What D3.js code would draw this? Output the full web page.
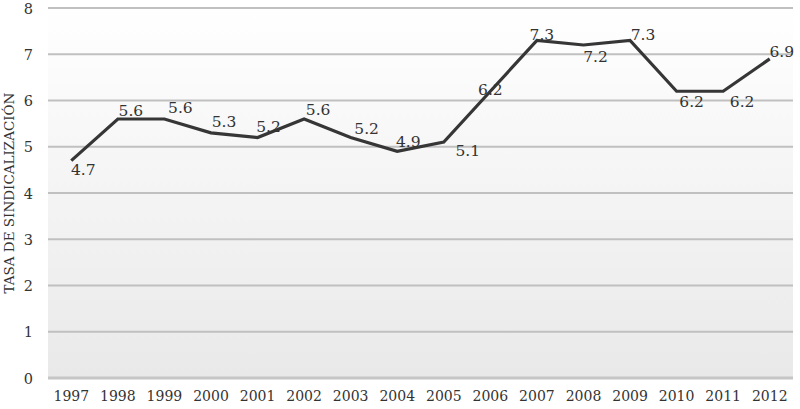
<!DOCTYPE html>
<html><head><meta charset="utf-8">
<script src="https://cdn.jsdelivr.net/npm/d3@7"></script>
<style>body{margin:0;background:#fff}svg{display:block}
text{font-family:"DejaVu Serif",serif}</style>
</head><body>
<script>
const years = ["1997","1998","1999","2000","2001","2002","2003","2004","2005","2006","2007","2008","2009","2010","2011","2012"];
const rates = [4.7,5.6,5.6,5.3,5.2,5.6,5.2,4.9,5.1,6.2,7.3,7.2,7.3,6.2,6.2,6.9];
const yTicks = [0,1,2,3,4,5,6,7,8];
const yTitle = "TASA DE SINDICALIZACIÓN";
// label offsets (dx, dy of baseline relative to point)
const labelDx = [12,13,16,13,11,14,16,11,24,0,5,12,13,15,19,12];
const labelDy = [14,-3,-6,-6,-6,-4,-4,-4,14,4,0,17,0,16,16,-2];

const W=800,H=409;
const m={l:48,r:7,t:8,b:31};
const svg=d3.select("body").append("svg").attr("width",W).attr("height",H);
const x=d3.scaleBand().domain(years).range([m.l,W-m.r]);
const y=d3.scaleLinear().domain([0,8]).range([H-m.b,m.t]);

const defs=svg.append("defs");
const g=defs.append("linearGradient").attr("id","bg").attr("x1",0).attr("y1",0).attr("x2",0).attr("y2",1);
g.append("stop").attr("offset","0%").attr("stop-color","#ffffff");
g.append("stop").attr("offset","100%").attr("stop-color","#e9e9e9");
svg.append("rect").attr("x",m.l).attr("y",y(8)).attr("width",W-m.r-m.l).attr("height",y(0)-y(8)).attr("fill","url(#bg)");

svg.append("g").selectAll("line").data(yTicks).join("line")
 .attr("x1",m.l).attr("x2",W-m.r).attr("y1",d=>y(d)).attr("y2",d=>y(d))
 .attr("stroke",d=>d===0?"#c6c6c6":"#c0c0c0").attr("stroke-width",d=>d===0?3:2);

const yAxis=d3.axisLeft(y).tickValues(yTicks).tickSize(0).tickPadding(15).tickFormat(d3.format("d"));
const ya=svg.append("g").attr("transform",`translate(${m.l},0)`).call(yAxis);
ya.select(".domain").remove();
ya.attr("font-family",null).attr("font-size",null);
ya.selectAll("text").style("font-size","14.5px").attr("fill","#333").attr("dy","0.35em");

const xAxis=d3.axisBottom(x).tickSize(0).tickPadding(13);
const xa=svg.append("g").attr("transform",`translate(0,${H-m.b})`).call(xAxis);
xa.select(".domain").remove();
xa.attr("font-family",null).attr("font-size",null);
xa.selectAll("text").style("font-size","14px").attr("fill","#333");

svg.append("text").attr("transform",`translate(14,${(y(0)+y(8))/2}) rotate(-90)`)
 .attr("text-anchor","middle").style("font-size","13.5px").attr("fill","#333").text(yTitle);

const cx=d=>x(d)+x.bandwidth()/2;
const line=d3.line().x((d,i)=>cx(years[i])).y(d=>y(d));
svg.append("path").datum(rates).attr("d",line).attr("fill","none").attr("stroke","#363636").attr("stroke-width",3.2).attr("stroke-linejoin","miter");

svg.append("g").selectAll("text").data(rates).join("text")
 .attr("x",(d,i)=>cx(years[i])+labelDx[i]).attr("y",(d,i)=>y(d)+labelDy[i])
 .attr("text-anchor","middle").style("font-size","15.5px").attr("fill","#333")
 .text(d=>d3.format(".1f")(d));
</script>
</body></html>
